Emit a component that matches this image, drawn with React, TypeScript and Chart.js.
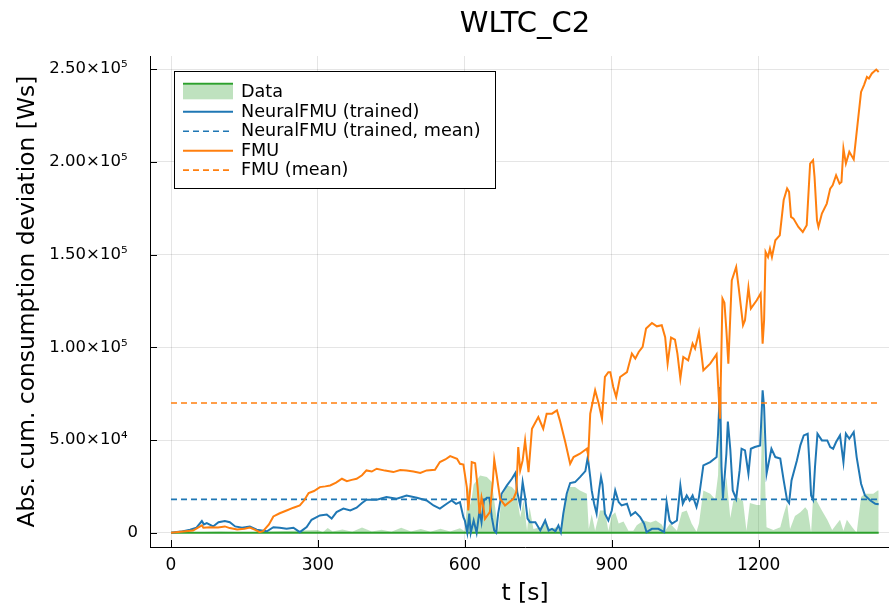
import React, { useEffect, useRef } from "react";
import { Chart, registerables } from "chart.js";

Chart.register(...registerables);

const FONT = "'DejaVu Sans', sans-serif";

const titleText = "WLTC_C2";
const xTitle = "t [s]";
const yTitle = "Abs. cum. consumption deviation [Ws]";
const xTicks = [0, 300, 600, 900, 1200];
const yTicks = [0, 50000, 100000, 150000, 200000, 250000];
const yTickLabels = ["0", "5.00×10⁴", "1.00×10⁵", "1.50×10⁵", "2.00×10⁵", "2.50×10⁵"];

const seriesLabels = [
  "Data",
  "NeuralFMU (trained)",
  "NeuralFMU (trained, mean)",
  "FMU",
  "FMU (mean)",
];

// Data (reference) band
const dataT = [
  0, 50, 100, 150, 200, 250, 300, 310, 320, 330, 350, 370, 390, 410, 430, 450, 470, 490, 510, 530,
  550, 570, 590, 600, 607, 612, 618, 624, 631, 645, 655, 660, 668, 675, 686, 696, 705, 713, 720, 727,
  732, 740, 754, 765, 775, 785, 796, 805, 815, 825, 835, 849, 853, 859, 866, 876, 886, 893, 900, 907,
  914, 924, 934, 944, 951, 965, 979, 990, 1002, 1009, 1019, 1033, 1043, 1053, 1063, 1073, 1078, 1087,
  1101, 1111, 1117, 1121, 1124, 1128, 1134, 1142, 1148, 1158, 1168, 1175, 1182, 1196, 1203, 1208,
  1214, 1216, 1230, 1244, 1251, 1258, 1264, 1274, 1285, 1295, 1300, 1307, 1311, 1318, 1329, 1340,
  1350, 1360, 1366, 1373, 1380, 1391, 1400, 1409, 1417, 1434, 1443, 1445,
];
const dataBand = [
  0, 300, 600, 300, 700, 1000, 1500, 300, 2600, 600, 1800, 500, 2800, 700, 1600, 500, 2700, 600, 2000, 500,
  2200, 600, 2400, 800, 24600, 15000, 26000, 28200, 30900, 30000, 27300, 17400, 1000, 19200, 25500, 24600, 22000, 8400, 17400, 1000,
  14000, 2000, 3000, 6000, 1500, 3000, 1000, 17400, 24600, 24600, 22800, 21000, 2000, 10000, 1000, 12000, 12000, 1000, 9300, 11100,
  5000, 6000, 1000, 1000, 4000, 6600, 5500, 6600, 4500, 1000, 5000, 1000, 11100, 12000, 5000, 500, 5000, 22800,
  21000, 18000, 31000, 78600, 30000, 17400, 30000, 8000, 17000, 19000, 17000, 1000, 16000, 15000, 15000, 71000,
  20000, 3000, 1500, 3000, 10000, 16000, 2000, 9000, 11100, 13800, 12000, 0, 19200, 17400, 12000, 7000,
  1500, 5000, 7000, 1000, 7000, 3000, 0, 19200, 21000, 21000, 22800, 22800,
];
const dataLineT = [0, 1445];
const dataLine = [0, 0];

// NeuralFMU (trained)
const nfmuT = [
  0, 20, 39, 52, 63, 67, 73, 86, 97, 110, 120, 131, 145, 161, 175, 185, 196, 209, 222, 236,
  250, 263, 277, 287, 304, 318, 328, 338, 352, 366, 379, 390, 399, 420, 440, 461, 481, 502, 522, 536,
  549, 563, 573, 582, 590, 597, 600, 605, 609, 612, 618, 624, 630, 634, 639, 645, 650, 655, 660, 664,
  668, 675, 686, 696, 703, 707, 713, 718, 723, 728, 733, 744, 754, 764, 771, 778, 785, 791, 796, 801,
  808, 815, 825, 835, 846, 851, 856, 859, 864, 869, 874, 878, 881, 886, 893, 900, 907, 914, 920, 931,
  939, 948, 958, 966, 971, 982, 995, 1007, 1012, 1018, 1023, 1033, 1040, 1045, 1053, 1059, 1065, 1073,
  1078, 1087, 1101, 1114, 1117, 1121, 1124, 1127, 1134, 1137, 1142, 1147, 1154, 1161, 1165, 1172, 1179,
  1184, 1192, 1203, 1208, 1211, 1216, 1226, 1234, 1244, 1251, 1258, 1262, 1267, 1278, 1285, 1292, 1300,
  1304, 1307, 1311, 1315, 1320, 1329, 1340, 1346, 1352, 1358, 1366, 1373, 1378, 1385, 1394, 1400, 1409,
  1417, 1428, 1438, 1445,
];
const nfmuY = [
  0, 600, 1600, 2700, 6300, 4500, 5200, 3400, 5700, 6300, 5700, 3400, 2700, 3400, 1600, 1200, 800, 3000, 2700, 2100,
  2700, 300, 3000, 7000, 9300, 9800, 7600, 11100, 13000, 12000, 13500, 16000, 17800, 17800, 19200, 18300, 20100, 18900, 17400, 14700,
  13000, 15600, 17400, 15600, 16500, 8400, 6600, 0, 10300, 0, 6600, 0, 12000, 5700, 17400, 18900, 18900, 8400, 1200, 0,
  10300, 21000, 25500, 29100, 32200, 21900, 14700, 27300, 19000, 7600, 5700, 5700, 1200, 6600, 1200, 2100, 800, 3900, 300, 10300,
  21000, 26800, 27300, 30000, 33200, 40800, 30000, 22800, 15600, 10300, 22800, 30000, 26000, 10300, 6600, 12000, 22800, 16500, 14700, 15600,
  9300, 11100, 8400, 4900, 300, 2100, 2100, 300, 16500, 6600, 4900, 6600, 25500, 15600, 20100, 17400, 20100, 13900,
  19200, 36300, 38100, 40800, 53400, 78600, 35700, 18300, 42600, 60000, 45000, 22800, 18300, 33600, 45300, 44400, 31800,
  45300, 46200, 47100, 76800, 67800, 31800, 45300, 40800, 40000, 28200, 17400, 16000, 28200, 39000, 47100, 52500, 53400,
  35700, 20100, 17800, 35700, 53400, 49800, 49800, 46200, 45300, 48900, 52500, 38100, 53400, 50700, 54300, 40800, 26400,
  20100, 17400, 15600, 15300,
];

// FMU
const fmuT = [
  0, 20, 45, 63, 66, 80, 96, 110, 120, 135, 150, 161, 172, 181, 188, 200, 209, 222, 236, 250,
  263, 272, 281, 292, 304, 315, 325, 337, 349, 359, 369, 379, 390, 399, 410, 420, 437, 454, 468, 481,
  495, 509, 522, 539, 549, 560, 570, 584, 590, 597, 604, 607, 612, 614, 621, 626, 630, 634, 638, 641,
  651, 657, 660, 665, 672, 682, 699, 705, 709, 713, 718, 723, 730, 737, 750, 760, 767, 778, 788, 794,
  805, 815, 822, 835, 849, 852, 856, 866, 873, 880, 886, 893, 897, 903, 909, 917, 931, 941, 948, 955,
  963, 970, 982, 992, 1002, 1009, 1014, 1021, 1029, 1034, 1040, 1046, 1056, 1065, 1070, 1078, 1087, 1101,
  1114, 1117, 1121, 1126, 1130, 1134, 1138, 1145, 1154, 1159, 1168, 1172, 1179, 1184, 1196, 1204, 1208,
  1211, 1214, 1219, 1223, 1227, 1234, 1243, 1251, 1258, 1262, 1266, 1271, 1281, 1290, 1298, 1305, 1311,
  1314, 1319, 1322, 1329, 1339, 1346, 1351, 1358, 1365, 1369, 1373, 1378, 1385, 1394, 1399, 1409, 1415,
  1421, 1425, 1431, 1440, 1445,
];
const fmuY = [
  0, 500, 1200, 4000, 2700, 3000, 2800, 3400, 2500, 1700, 2200, 2800, 1500, 300, 800, 4500, 8800, 10500, 12000, 13500,
  14700, 17500, 21400, 22500, 24600, 25000, 25500, 27000, 29100, 27800, 28500, 29100, 31000, 33600, 33000, 34500, 33500, 32700, 33800, 33600,
  33000, 32200, 33600, 34000, 38100, 39500, 41300, 39900, 37200, 36800, 24600, 12000, 27000, 38100, 37500, 24600, 10300, 19000, 13600, 7500,
  11100, 27300, 39400, 30900, 18300, 14700, 18300, 22000, 46200, 33600, 39000, 49800, 32700, 56100, 62400, 56100, 64200, 64200, 66000, 60600,
  48900, 37200, 40800, 42600, 45300, 41700, 64200, 76800, 70000, 61500, 84000, 86600, 86600, 78600, 73200, 84000, 86600, 96600, 93900, 97500,
  100200, 110100, 113100, 111300, 111900, 105500, 91200, 105200, 104100, 96600, 83100, 94800, 93000, 102000, 99300, 108200, 87600, 91200,
  96200, 80400, 61500, 126300, 124000, 109200, 91200, 136100, 143300, 132500, 111900, 114600, 132200, 120900, 125400, 129000, 102000,
  114600, 151400, 148700, 153200, 148700, 157700, 160400, 179400, 185600, 183800, 170300, 169400, 164900, 162200, 165800, 199100, 200900,
  191900, 168500, 164900, 172100, 177500, 185600, 187400, 192800, 188300, 189200, 207200, 199100, 205400, 201300, 213500, 237700, 241400,
  245800, 245000, 247700, 249800, 248500,
];

// Means
const meanT = [0, 1445];
const nfmuMean = [18000, 18000];
const fmuMean = [70000, 70000];

const BLUE = "#1f77b4";
const ORANGE = "#ff7f0e";
const GREEN = "#2ca02c";
const GREEN_FILL = "rgba(44,160,44,0.3)";

const pts = (ts: number[], vs: number[]) => ts.map((t, i) => ({ x: t, y: vs[i] }));

const innerTicks = {
  id: "innerTicks",
  afterDraw(chart: any) {
    const { ctx, chartArea, scales } = chart;
    ctx.save();
    ctx.strokeStyle = "#000";
    ctx.lineWidth = 1;
    ctx.beginPath();
    xTicks.forEach((v) => {
      const px = Math.round(scales.x.getPixelForValue(v)) + 0.5;
      ctx.moveTo(px, chartArea.bottom);
      ctx.lineTo(px, chartArea.bottom - 7);
    });
    yTicks.forEach((v) => {
      const py = Math.round(scales.y.getPixelForValue(v)) + 0.5;
      ctx.moveTo(chartArea.left, py);
      ctx.lineTo(chartArea.left + 7, py);
    });
    ctx.stroke();
    ctx.restore();
  },
};

const customLegend = {
  id: "customLegend",
  afterDraw(chart: any) {
    const { ctx } = chart;
    const boxX = 174.5, boxY = 71.5, boxW = 321, boxH = 117;
    const rowY0 = 92.3, rowH = 19.45;
    const symX0 = 183, symX1 = 233, textX = 241;
    const styles = [
      { color: GREEN, dash: [] as number[], band: true },
      { color: BLUE, dash: [] as number[], band: false },
      { color: BLUE, dash: [6, 4], band: false },
      { color: ORANGE, dash: [] as number[], band: false },
      { color: ORANGE, dash: [6, 4], band: false },
    ];
    ctx.save();
    ctx.fillStyle = "#fff";
    ctx.fillRect(boxX, boxY, boxW, boxH);
    ctx.strokeStyle = "#000";
    ctx.lineWidth = 1;
    ctx.strokeRect(boxX, boxY, boxW, boxH);
    ctx.font = `17.6px ${FONT}`;
    ctx.textBaseline = "middle";
    ctx.textAlign = "left";
    seriesLabels.forEach((label, i) => {
      const y = rowY0 + i * rowH;
      const st = styles[i];
      if (st.band) {
        ctx.fillStyle = GREEN_FILL;
        ctx.fillRect(symX0, y - 7.5, symX1 - symX0, 14.5);
        ctx.strokeStyle = st.color;
        ctx.lineWidth = 2;
        ctx.setLineDash([]);
        ctx.beginPath();
        ctx.moveTo(symX0, y - 8.5);
        ctx.lineTo(symX1, y - 8.5);
        ctx.stroke();
      } else {
        ctx.strokeStyle = st.color;
        ctx.lineWidth = st.dash.length ? 1.6 : 2;
        ctx.setLineDash(st.dash);
        ctx.beginPath();
        ctx.moveTo(symX0, y);
        ctx.lineTo(symX1, y);
        ctx.stroke();
      }
      ctx.setLineDash([]);
      ctx.fillStyle = "#000";
      ctx.fillText(label, textX, y + 0.5);
    });
    ctx.restore();
  },
};

export default function App() {
  const ref = useRef<HTMLCanvasElement | null>(null);

  useEffect(() => {
    if (!ref.current) return;
    const chart = new Chart(ref.current, {
      type: "line",
      data: {
        datasets: [
          {
            label: seriesLabels[0],
            data: pts(dataT, dataBand),
            borderWidth: 0,
            borderColor: "rgba(0,0,0,0)",
            backgroundColor: GREEN_FILL,
            fill: "origin",
            pointRadius: 0,
            tension: 0,
            order: 10,
          },
          {
            label: seriesLabels[0],
            data: pts(dataLineT, dataLine),
            borderColor: GREEN,
            borderWidth: 2,
            pointRadius: 0,
            fill: false,
            order: 9,
          },
          {
            label: seriesLabels[1],
            data: pts(nfmuT, nfmuY),
            borderColor: BLUE,
            borderWidth: 2,
            pointRadius: 0,
            fill: false,
            tension: 0,
            order: 8,
          },
          {
            label: seriesLabels[2],
            data: pts(meanT, nfmuMean),
            borderColor: BLUE,
            borderWidth: 1.6,
            borderDash: [6, 4],
            pointRadius: 0,
            fill: false,
            order: 7,
          },
          {
            label: seriesLabels[3],
            data: pts(fmuT, fmuY),
            borderColor: ORANGE,
            borderWidth: 2,
            pointRadius: 0,
            fill: false,
            tension: 0,
            order: 6,
          },
          {
            label: seriesLabels[4],
            data: pts(meanT, fmuMean),
            borderColor: ORANGE,
            borderWidth: 1.6,
            borderDash: [6, 4],
            pointRadius: 0,
            fill: false,
            order: 5,
          },
        ],
      },
      options: {
        responsive: false,
        animation: false,
        devicePixelRatio: 1,
        layout: { padding: 0 },
        plugins: {
          legend: { display: false },
          tooltip: { enabled: false },
          title: {
            display: true,
            text: titleText,
            fullSize: false,
            color: "#000",
            font: { family: FONT, size: 29, weight: "normal" },
            padding: { top: 7, bottom: 14.2 },
          },
        },
        scales: {
          x: {
            type: "linear",
            min: -42.9,
            max: 1488.5,
            afterBuildTicks: (axis: any) => {
              axis.ticks = xTicks.map((v) => ({ value: v }));
            },
            afterFit: (axis: any) => {
              axis.height = 63;
            },
            grid: { color: "rgba(0,0,0,0.1)", drawTicks: false },
            border: { color: "#000", width: 1 },
            ticks: {
              font: { family: FONT, size: 17 },
              color: "#000",
              padding: 8,
              maxRotation: 0,
              autoSkip: false,
              callback: (v: any) => String(v),
            },
            title: {
              display: true,
              text: xTitle,
              color: "#000",
              font: { family: FONT, size: 23.4 },
              padding: { top: 0, bottom: 2 },
            },
          },
          y: {
            type: "linear",
            min: -7700,
            max: 257100,
            afterBuildTicks: (axis: any) => {
              axis.ticks = yTicks.map((v) => ({ value: v }));
            },
            afterFit: (axis: any) => {
              axis.width = 150;
            },
            grid: { color: "rgba(0,0,0,0.1)", drawTicks: false },
            border: { color: "#000", width: 1 },
            ticks: {
              font: { family: FONT, size: 16.5 },
              color: "#000",
              padding: 12,
              autoSkip: false,
              callback: (v: any) => {
                const i = yTicks.indexOf(Number(v));
                if (i < 0) return "";
                return i === 0 ? yTickLabels[i] : yTickLabels[i] + "  ";
              },
            },
            title: {
              display: true,
              text: yTitle,
              color: "#000",
              font: { family: FONT, size: 23.4 },
              padding: { top: 14, bottom: 0 },
            },
          },
        },
      },
      plugins: [innerTicks, customLegend],
    });
    return () => chart.destroy();
  }, []);

  return (
    <div
      style={{
        position: "fixed",
        left: 0,
        top: 0,
        width: 889,
        height: 610,
        overflow: "hidden",
        background: "#fff",
      }}
    >
      <canvas ref={ref} width={900} height={610} style={{ display: "block", width: 900, height: 610 }} />
    </div>
  );
}
